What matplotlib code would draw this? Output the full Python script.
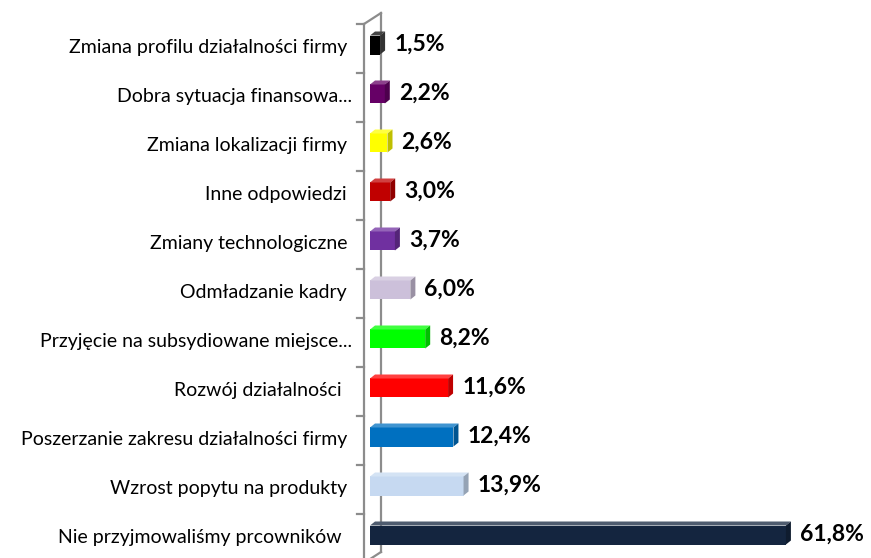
import matplotlib
matplotlib.use("Agg")
import matplotlib.pyplot as plt
from matplotlib.patches import Polygon
import matplotlib.colors as mcolors
import numpy as np

categories = [
    "Zmiana profilu działalności firmy ",
    "Dobra sytuacja finansowa...",
    "Zmiana lokalizacji firmy ",
    "Inne odpowiedzi ",
    "Zmiany technologiczne ",
    "Odmładzanie kadry ",
    "Przyjęcie na subsydiowane miejsce...",
    "Rozwój działalności  ",
    "Poszerzanie zakresu działalności firmy ",
    "Wzrost popytu na produkty ",
    "Nie przyjmowaliśmy prcowników  ",
]
values = [1.5, 2.2, 2.6, 3.0, 3.7, 6.0, 8.2, 11.6, 12.4, 13.9, 61.8]
value_labels = ["1,5%", "2,2%", "2,6%", "3,0%", "3,7%", "6,0%", "8,2%",
                "11,6%", "12,4%", "13,9%", "61,8%"]
colors = ["#000000", "#660066", "#FFFF00", "#C00000", "#7030A0", "#CCC0DA",
          "#00FF00", "#FF0000", "#0070C0", "#C6D9F1", "#14253F"]

W, H = 871, 558
fig = plt.figure(figsize=(W / 100, H / 100), dpi=100)
px_per_pct = 6.73
px_per_cat = 49.0
left_px, top_px = 364, 24
ax = fig.add_axes([left_px / W, 0, 1 - left_px / W, (H - top_px) / H])
x0 = -6 / px_per_pct
ax.set_xlim(x0, x0 + (W - left_px) / px_per_pct)
ax.set_ylim(-0.5 + (H - top_px) / px_per_cat, -0.5)
ax.axis("off")

# depth of bars in data units
dx = 5 / px_per_pct
dy = 4 / px_per_cat
bar_h = 19 / px_per_cat
yc = np.arange(len(values)) - 3.5 / px_per_cat

# axis lines (front + back wall)
gcol = "#8C8C8C"
bx = x0 + 17 / px_per_pct
bdy = 11 / px_per_cat
ymax_ax = -0.5 + 539 / px_per_cat
ax.plot([x0, x0], [-0.5, ymax_ax], color=gcol, lw=1.6, clip_on=False, zorder=1)
ax.plot([bx, bx], [-0.5 - bdy, ymax_ax - bdy], color=gcol, lw=1.6, clip_on=False, zorder=1)
ax.plot([x0, bx], [-0.5, -0.5 - bdy], color=gcol, lw=1.6, clip_on=False, zorder=1)
ax.plot([x0, bx], [ymax_ax, ymax_ax - bdy], color=gcol, lw=1.6, clip_on=False, zorder=1)
tick_len = 7 / px_per_pct
for k in range(len(values) + 1):
    ax.plot([x0 - tick_len, x0], [k - 0.5, k - 0.5], color=gcol, lw=1.6,
            clip_on=False, zorder=1)

def shade(c, f):
    r, g, b = mcolors.to_rgb(c)
    if f < 1:
        return (r * f, g * f, b * f)
    return (r + (1 - r) * (f - 1), g + (1 - g) * (f - 1), b + (1 - b) * (f - 1))

for i, (v, c) in enumerate(zip(values, colors)):
    y = yc[i]
    top = y - bar_h / 2
    bot = y + bar_h / 2
    ax.barh(y, v, height=bar_h, left=0, color=c, zorder=3)
    topc = shade(c, 1.25) if c != "#000000" else "#444444"
    sidec = shade(c, 0.75) if c != "#000000" else "#333333"
    ax.add_patch(Polygon([[0, top], [v, top], [v + dx, top - dy], [dx, top - dy]],
                         closed=True, facecolor=topc, edgecolor="none", zorder=3))
    ax.add_patch(Polygon([[v, top], [v + dx, top - dy], [v + dx, bot - dy], [v, bot]],
                         closed=True, facecolor=sidec, edgecolor="none", zorder=3))
    ax.text(v + dx + 9 / px_per_pct, y - 0.5 / px_per_cat, value_labels[i],
            ha="left", va="center", fontsize=16.5, fontweight="bold",
            family="Lato", color="#000000")
    ax.text(x0 + (352 - left_px) / px_per_pct, i - 1 / px_per_cat, categories[i],
            ha="right", va="center", fontsize=14, family="Lato",
            color="#000000", clip_on=False)

fig.savefig("out.png", dpi=100)
